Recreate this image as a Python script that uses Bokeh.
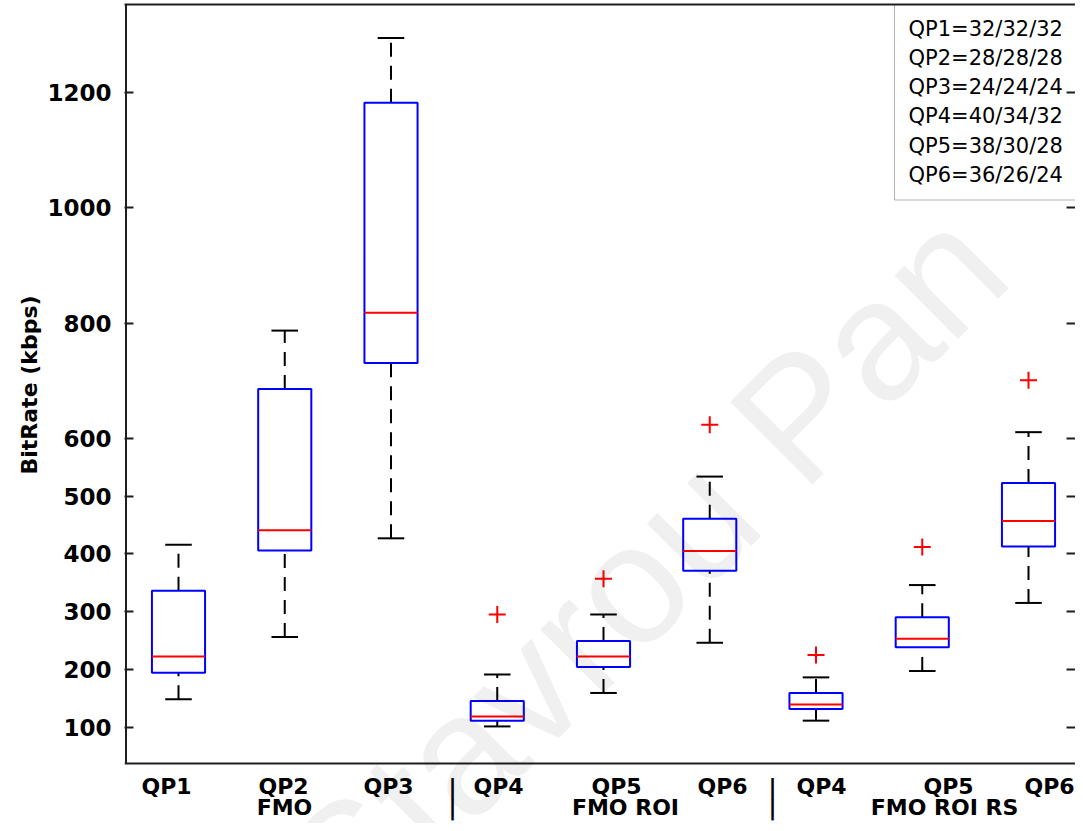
from bokeh.plotting import figure
from bokeh.models import Range1d, FixedTicker, LinearAxis, Label, BoxAnnotation, ColumnDataSource, Title
from bokeh.core.properties import value
from bokeh.embed import file_html
from bokeh.resources import INLINE

# ---------------- data ----------------
categories = ["QP1", "QP2", "QP3", "QP4", "QP5", "QP6", "QP4", "QP5", "QP6"]
groups = ["FMO", "FMO", "FMO", "FMO ROI", "FMO ROI", "FMO ROI", "FMO ROI RS", "FMO ROI RS", "FMO ROI RS"]
positions = [1, 2, 3, 4, 5, 6, 7, 8, 9]
lower_whisker = [148, 256, 427, 101, 159, 246, 111, 197, 315]
q1 = [194, 406, 731, 111, 204, 371, 131, 238, 413]
median = [222, 441, 818, 118, 222, 405, 139, 253, 457]
q3 = [336, 686, 1182, 145, 249, 461, 159, 290, 523]
upper_whisker = [416, 787, 1294, 191, 295, 534, 186, 346, 611]
outlier_pos = [4, 5, 6, 7, 8, 9]
outlier_val = [295, 357, 624, 225, 412, 701]

y_ticks = [100, 200, 300, 400, 500, 600, 800, 1000, 1200]
y_label = "BitRate (kbps)"
xlabel_row1 = ["QP1", "QP2", "QP3", "|", "QP4", "QP5", "QP6", "|", "QP4", "QP5", "QP6"]
xlabel_row2 = ["FMO", "|", "FMO ROI", "|", "FMO ROI RS"]
legend_lines = ["QP1=32/32/32", "QP2=28/28/28", "QP3=24/24/24",
                "QP4=40/34/32", "QP5=38/30/28", "QP6=36/26/24"]
watermark = "Stavrou Pan"

# ---------------- layout (canvas pixels) ----------------
W, H = 1075, 823
ML, MR, MT, MB = 124, 0, 4, 0
frame_w = W - ML - MR
frame_h = H - MT - MB
PX_X = 106.25          # pixels per x unit
PX_Y = 0.577           # pixels per kbps
FIRST_BOX_PX = 178
Y100_PX = 726.5
x0 = 1 - (FIRST_BOX_PX - ML) / PX_X
x1 = x0 + frame_w / PX_X
frame_bottom = MT + frame_h
y0 = 100 - (frame_bottom - Y100_PX) / PX_Y
y1 = y0 + frame_h / PX_Y


def dx(px):
    return x0 + (px - ML) / PX_X


def dy(py):
    return y0 + (frame_bottom - py) / PX_Y


TEXT_SHIFT = 9           # svg text sits this much lower than its anchor
AXIS_PX = 763            # bottom spine
row1_px = [166, 283, 388, 452, 498, 616, 722, 772, 821, 948, 1049]
row2_px = [284, 452, 625, 772, 944]
ROW1_BASE, ROW2_BASE = 795, 816

BOX_W = 0.5
CAP_W = 0.25
AX_COLOR = "#1e1e1e"
FONT = "DejaVu Sans"

p = figure(width=W, height=H, x_range=Range1d(x0, x1), y_range=Range1d(y0, y1),
           output_backend="svg", toolbar_location=None,
           min_border_left=ML, min_border_right=MR, min_border_top=MT, min_border_bottom=MB,
           x_axis_location=None)
p.outline_line_color = None
p.grid.visible = False
p.background_fill_color = "white"
p.border_fill_color = "white"

# left axis: ticks + labels (spine drawn separately so it stops at the bottom spine)
ya = p.yaxis[0]
ya.ticker = FixedTicker(ticks=y_ticks)
ya.major_tick_in = 9
ya.major_tick_out = 0
ya.major_tick_line_width = 2
ya.major_tick_line_color = AX_COLOR
ya.minor_tick_line_color = None
ya.axis_line_color = None
ya.major_label_standoff = 13
ya.major_label_text_font = FONT
ya.major_label_text_font_style = "bold"
ya.major_label_text_font_size = "23px"
ya.major_label_text_color = "black"

# y label: starts (bottom end) at 474 px
p.add_layout(Title(text=y_label, align="left", offset=frame_bottom - 474, text_font=FONT,
                   text_font_style="bold", text_font_size="22px", text_color="black",
                   standoff=6), "left")

# top axis: line only
ta = LinearAxis(ticker=FixedTicker(ticks=[]), major_label_text_font_size="0px",
                major_label_standoff=0, major_tick_out=0, major_tick_in=0,
                minor_tick_line_color=None, axis_line_color=AX_COLOR, axis_line_width=2)
p.add_layout(ta, "above")

# right axis: inward ticks only (its spine lies beyond the picture)
ra = LinearAxis(ticker=FixedTicker(ticks=y_ticks), major_label_overrides={t: "" for t in y_ticks},
                major_label_standoff=0, major_tick_out=0, major_tick_in=9,
                major_tick_line_width=2, major_tick_line_color=AX_COLOR,
                minor_tick_line_color=None, axis_line_color=None)
p.add_layout(ra, "right")

# spines
p.segment(x0=[dx(ML + 1.5)], y0=[dy(AXIS_PX)], x1=[dx(ML + 1.5)], y1=[y1],
          line_color=AX_COLOR, line_width=2)
p.segment(x0=[x0], y0=[dy(AXIS_PX)], x1=[x1], y1=[dy(AXIS_PX)],
          line_color=AX_COLOR, line_width=2)

# legend-like text box
p.add_layout(BoxAnnotation(left=dx(894), bottom=dy(199.5), fill_color="white", fill_alpha=1.0,
                           line_color="black", line_width=1, level="underlay"))
for i, t in enumerate(legend_lines):
    p.add_layout(Label(x=dx(908), y=dy(37 - TEXT_SHIFT + 29.3 * i), text=t, text_font=FONT,
                       text_font_size="21px", text_color="black", text_baseline="alphabetic",
                       text_align="left"))

# boxes
src = ColumnDataSource(dict(
    x=positions, lw=lower_whisker, q1=q1, med=median, q3=q3, uw=upper_whisker,
    bl=[v - BOX_W / 2 for v in positions], br=[v + BOX_W / 2 for v in positions],
    cl=[v - CAP_W / 2 for v in positions], cr=[v + CAP_W / 2 for v in positions],
))
p.segment(x0="x", y0="q3", x1="x", y1="uw", source=src, line_color="black",
          line_width=2, line_dash="14 9")
p.segment(x0="x", y0="lw", x1="x", y1="q1", source=src, line_color="black",
          line_width=2, line_dash="14 9")
p.segment(x0="cl", y0="uw", x1="cr", y1="uw", source=src, line_color="black", line_width=2)
p.segment(x0="cl", y0="lw", x1="cr", y1="lw", source=src, line_color="black", line_width=2)
p.vbar(x="x", width=BOX_W, bottom="q1", top="q3", source=src, fill_color=None,
       line_color="#0000ff", line_width=2)
p.segment(x0="bl", y0="med", x1="br", y1="med", source=src, line_color="#ff0000", line_width=2)
p.scatter(x=outlier_pos, y=outlier_val, marker="cross", size=17, line_color="#ff0000",
          line_width=2)

# category labels under the bottom spine
p.text(x=[dx(v) for v in row1_px], y=[dy(ROW1_BASE - TEXT_SHIFT)] * len(row1_px), text=xlabel_row1,
       text_font=value(FONT), text_font_style="bold", text_font_size="22px",
       text_color="black", text_align="center", text_baseline="alphabetic")
p.text(x=[dx(v) for v in row2_px], y=[dy(ROW2_BASE - TEXT_SHIFT)] * len(row2_px), text=xlabel_row2,
       text_font=value(FONT), text_font_style="bold", text_font_size="22px",
       text_color="black", text_align="center", text_baseline="alphabetic")

# faint watermark
p.add_layout(Label(x=dx(380), y=dy(967), text=watermark, angle=45, angle_units="deg",
                   text_font="Liberation Sans", text_font_size="170px", text_color="black",
                   text_alpha=0.06, level="overlay"))

open("out.html", "w").write(file_html(p, INLINE))
